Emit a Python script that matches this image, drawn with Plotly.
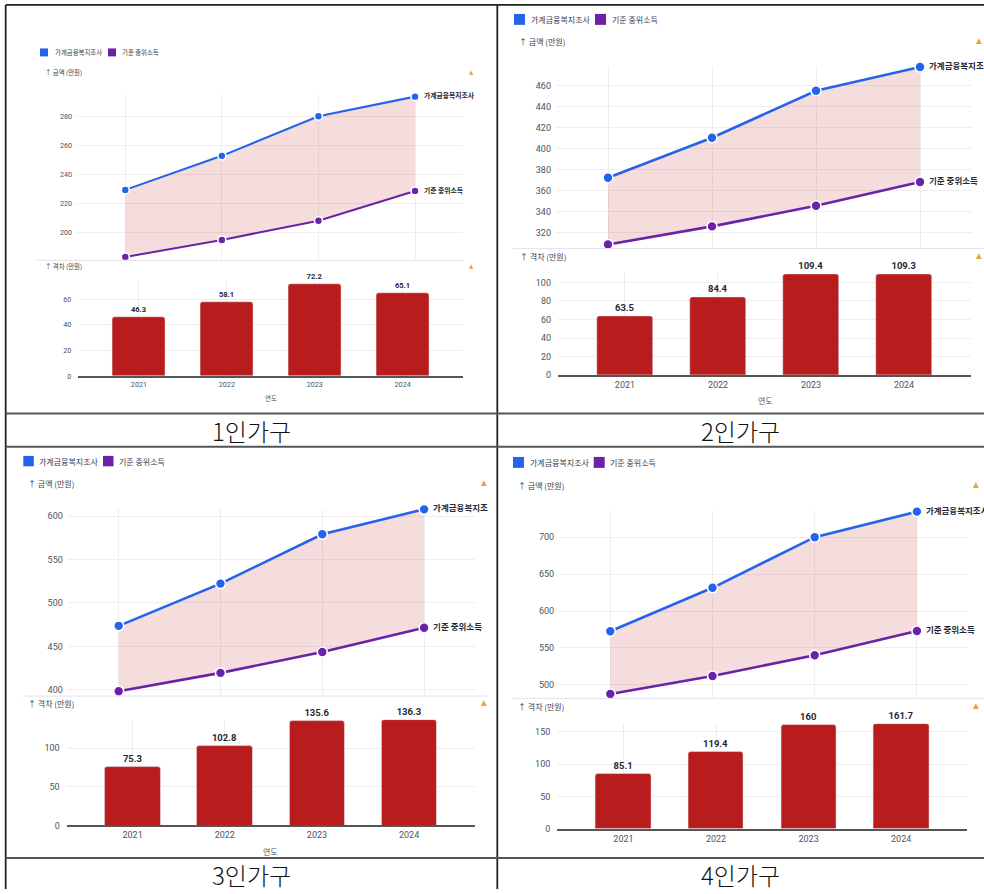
import plotly.graph_objects as go

W, H = 984, 894


def fx(px):
    return px / W


def fy(py):
    return 1 - py / H


# ---- data (만원) ----
years = [2021, 2022, 2023, 2024]
households = ["1인가구", "2인가구", "3인가구", "4인가구"]
series_names = ["가계금융복지조사", "기준 중위소득"]

survey_1 = [229.1, 252.6, 280.0, 293.5]
median_1 = [182.8, 194.5, 207.8, 228.4]
gap_1 = [46.3, 58.1, 72.2, 65.1]

survey_2 = [372.3, 410.4, 455.0, 477.6]
median_2 = [308.8, 326.0, 345.6, 368.3]
gap_2 = [63.5, 84.4, 109.4, 109.3]

survey_3 = [473.7, 522.3, 579.1, 607.8]
median_3 = [398.4, 419.5, 443.5, 471.5]
gap_3 = [75.3, 102.8, 135.6, 136.3]

survey_4 = [572.7, 631.5, 700.1, 734.7]
median_4 = [487.6, 512.1, 540.1, 573.0]
gap_4 = [85.1, 119.4, 160, 161.7]

amount_title = "↑ 금액 (만원)"
gap_title = "↑ 격차 (만원)"
year_title = "연도"

BLUE = "#2563eb"
PURPLE = "#6b21a8"
BAR = "#b91c1c"
FILL = "rgba(185,28,28,0.15)"
GRID = "#eeeeee"
TICK = "#4b5563"
DARK = "#1f2937"
WARN = "#e8a33d"
NUM_FONT = "Roboto, 'Noto Sans CJK KR', sans-serif"
KO_FONT = "'Noto Sans CJK KR', Roboto, sans-serif"

# pixel geometry of each table cell's chart
panels = [
    dict(survey=survey_1, median=median_1, gap=gap_1, s=0.8,
         line_x=(77, 463.3), line_y=(95, 261.7), line_range=(180.5, 295),
         line_ticks=[200, 220, 240, 260, 280],
         bar_x=(78.3, 463.3), bar_y=(281.6, 378.3), bar_range=(0, 75),
         bar_ticks=[0, 20, 40, 60], bar_pad=0.69,
         legend=dict(y=52.7, sq=8, b0=40, t0=53, p0=108, t1=120),
         amount=(43, 73), gap_lbl=(43, 268.3), warn_x=471.7,
         xtitle=(270.7, 400.7), clip=497, divider=(35, 463.3, 261.7)),
    dict(survey=survey_2, median=median_2, gap=gap_2, s=1.0,
         line_x=(556, 972), line_y=(66.7, 249), line_range=(305.8, 478.3),
         line_ticks=[320, 340, 360, 380, 400, 420, 440, 460],
         bar_x=(558, 971), bar_y=(274.7, 377.3), bar_range=(0, 110),
         bar_ticks=[0, 20, 40, 60, 80, 100], bar_pad=0.72,
         legend=dict(y=19.5, sq=11, b0=514, t0=529, p0=595, t1=610),
         amount=(516.7, 42), gap_lbl=(518, 257.7), warn_x=979,
         xtitle=(765, 402.7), clip=984, divider=(513, 984, 250)),
    dict(survey=survey_3, median=median_3, gap=gap_3, s=1.0,
         line_x=(67.8, 475), line_y=(511.7, 700), line_range=(392.8, 608.4),
         line_ticks=[400, 450, 500, 550, 600],
         bar_x=(66.7, 475), bar_y=(723.9, 830), bar_range=(0, 136.5),
         bar_ticks=[0, 50, 100], bar_pad=0.715,
         legend=dict(y=463.7, sq=10.5, b0=23.3, t0=37, p0=103, t1=117),
         amount=(26, 486), gap_lbl=(26, 707.3), warn_x=484,
         xtitle=(270, 856.7), clip=488, divider=(23, 488, 700)),
    dict(survey=survey_4, median=median_4, gap=gap_4, s=1.0,
         line_x=(559.2, 968), line_y=(514, 702.3), line_range=(481.7, 735.4),
         line_ticks=[500, 550, 600, 650, 700],
         bar_x=(557.3, 967.3), bar_y=(727.9, 833.7), bar_range=(0, 162),
         bar_ticks=[0, 50, 100, 150], bar_pad=0.715,
         legend=dict(y=465, sq=11, b0=513, t0=528, p0=593.7, t1=608),
         amount=(516, 488.3), gap_lbl=(516, 710), warn_x=976,
         xtitle=None, clip=984, divider=(513, 984, 702.3)),
]

fig = go.Figure()
layout_axes = {}
shapes = []
annotations = []


def ax_names(idx):
    sfx = "" if idx == 1 else str(idx)
    return "x" + sfx, "y" + sfx, "xaxis" + sfx, "yaxis" + sfx


def ann(x, y, text, size, color, xanchor="left", weight="normal", family=KO_FONT):
    annotations.append(dict(
        x=fx(x), y=fy(y), xref="paper", yref="paper", text=text, showarrow=False,
        xanchor=xanchor, yanchor="middle",
        font=dict(size=size, color=color, family=family, weight=weight)))


for i, p in enumerate(panels):
    s = p["s"]
    lx, ly, lxk, lyk = ax_names(3 * i + 1)
    bx, by, bxk, byk = ax_names(3 * i + 2)
    tx, ty, txk, tyk = ax_names(3 * i + 3)

    # band between the two series
    fig.add_trace(go.Scatter(x=years, y=p["median"], mode="lines", line=dict(width=0),
                             hoverinfo="skip", showlegend=False, xaxis=lx, yaxis=ly))
    fig.add_trace(go.Scatter(x=years, y=p["survey"], mode="lines", line=dict(width=0),
                             fill="tonexty", fillcolor=FILL, hoverinfo="skip",
                             showlegend=False, xaxis=lx, yaxis=ly))
    for vals, color, name in [(p["median"], PURPLE, series_names[1]),
                              (p["survey"], BLUE, series_names[0])]:
        fig.add_trace(go.Scatter(
            x=years, y=vals, mode="lines+markers", name=name, showlegend=False,
            line=dict(color=color, width=2.6 * s), cliponaxis=False,
            marker=dict(size=10 * s, color=color, line=dict(color="white", width=1.6)),
            xaxis=lx, yaxis=ly))

    # gap bars
    fig.add_trace(go.Bar(
        x=years, y=p["gap"], width=0.6, marker=dict(color=BAR, cornerradius=3),
        text=[f"{v:g}" for v in p["gap"]], textposition="outside", cliponaxis=False,
        constraintext="none",
        textfont=dict(size=9.5 * s, color=DARK, family=NUM_FONT, weight="bold"),
        showlegend=False, xaxis=bx, yaxis=by))

    # end-of-line series labels, clipped at the cell edge
    x0, x1 = p["line_x"]
    top, bot = p["line_y"]
    r0, r1 = p["line_range"]
    dot_x = x0 + (2024 - 2020.5) / 4 * (x1 - x0)
    upp = (r1 - r0) / (bot - top)
    ext = 14
    fig.add_trace(go.Scatter(
        x=[0, 0], y=[p["survey"][-1], p["median"][-1]], mode="text",
        text=series_names, textposition="middle right", cliponaxis=True,
        textfont=dict(size=8.5 * s, color=DARK, family=KO_FONT, weight="bold"),
        showlegend=False, hoverinfo="skip", xaxis=tx, yaxis=ty))

    tickfont = dict(size=9 * s, color=TICK, family=NUM_FONT)
    layout_axes[lxk] = dict(domain=[fx(x0), fx(x1)], range=[2020.5, 2024.5],
                            tickvals=years, showticklabels=False, showgrid=True,
                            gridcolor=GRID, zeroline=False, ticks="", anchor=ly,
                            fixedrange=True)
    layout_axes[lyk] = dict(domain=[fy(bot), fy(top)], range=[r0, r1],
                            tickvals=p["line_ticks"], showgrid=True, gridcolor=GRID,
                            zeroline=False, ticks="", tickfont=tickfont, anchor=lx,
                            ticklabelstandoff=4, fixedrange=True)

    bx0, bx1 = p["bar_x"]
    btop, bbot = p["bar_y"]
    layout_axes[bxk] = dict(domain=[fx(bx0), fx(bx1)],
                            range=[2021 - p["bar_pad"], 2024 + p["bar_pad"]],
                            tickvals=years, ticktext=[str(y) for y in years],
                            showgrid=True, gridcolor=GRID, zeroline=False,
                            showline=True, linecolor="#555555", linewidth=1.5,
                            ticks="", tickfont=tickfont, anchor=by, fixedrange=True)
    layout_axes[byk] = dict(domain=[fy(bbot), fy(btop)], range=list(p["bar_range"]),
                            tickvals=p["bar_ticks"], showgrid=True, gridcolor=GRID,
                            zeroline=False, ticks="", tickfont=tickfont, anchor=bx,
                            ticklabelstandoff=6, fixedrange=True)

    layout_axes[txk] = dict(domain=[fx(dot_x + 9), fx(p["clip"])], range=[0, 1],
                            visible=False, anchor=ty, fixedrange=True)
    layout_axes[tyk] = dict(domain=[fy(bot + ext), fy(top - ext)],
                            range=[r0 - ext * upp, r1 + ext * upp],
                            visible=False, anchor=tx, fixedrange=True)

    # legend swatches and labels
    lg = p["legend"]
    ksize = 8 * s if s < 1 else 8
    for sq_x, txt_x, color, name in [(lg["b0"], lg["t0"], BLUE, series_names[0]),
                                     (lg["p0"], lg["t1"], PURPLE, series_names[1])]:
        shapes.append(dict(type="rect", xref="paper", yref="paper",
                           x0=fx(sq_x), x1=fx(sq_x + lg["sq"]),
                           y0=fy(lg["y"] + lg["sq"] / 2), y1=fy(lg["y"] - lg["sq"] / 2),
                           fillcolor=color, line=dict(width=0)))
        ann(txt_x, lg["y"], name, ksize, "#374151")

    ann(p["amount"][0], p["amount"][1], amount_title, ksize, "#374151")
    ann(p["gap_lbl"][0], p["gap_lbl"][1], gap_title, ksize, "#374151")
    for wy in (p["amount"][1], p["gap_lbl"][1]):
        ann(p["warn_x"], wy - 1, "▲", 7 * s if s < 1 else 7.5, WARN, xanchor="center",
            family="DejaVu Sans")
    if p["xtitle"]:
        ann(p["xtitle"][0], p["xtitle"][1], year_title, ksize, "#4b5563", xanchor="center")

    dx0, dx1, dy = p["divider"]
    shapes.append(dict(type="line", xref="paper", yref="paper", x0=fx(dx0), x1=fx(dx1),
                       y0=fy(dy), y1=fy(dy), line=dict(color="#e3e0ea", width=1)))

# table grid
BORDER = dict(color="#222222", width=1.8)
SEP = dict(color="#555555", width=2)
for x0, y0, x1, y1, ln in [
    (5.7, 5, 984, 5, BORDER),
    (5.7, 5, 5.7, 894, BORDER),
    (497.3, 5, 497.3, 894, BORDER),
    (5.7, 415.7, 984, 415.7, SEP),
    (5.7, 449.3, 984, 449.3, SEP),
    (5.7, 862.7, 984, 862.7, SEP),
]:
    shapes.append(dict(type="line", xref="paper", yref="paper", x0=fx(x0), x1=fx(x1),
                       y0=fy(y0), y1=fy(y1), line=ln))

# cell captions
for name, (cx, cy) in zip(households, [(251.5, 433), (740, 433), (251.5, 879), (740, 879)]):
    ann(cx, cy, name, 24, "#111111", xanchor="center", weight=300)

fig.update_layout(
    width=W, height=H, margin=dict(l=0, r=0, t=0, b=0),
    paper_bgcolor="white", plot_bgcolor="rgba(0,0,0,0)",
    showlegend=False, bargap=0, shapes=shapes, annotations=annotations,
    font=dict(family=NUM_FONT), **layout_axes)

fig.write_html("out.html")
